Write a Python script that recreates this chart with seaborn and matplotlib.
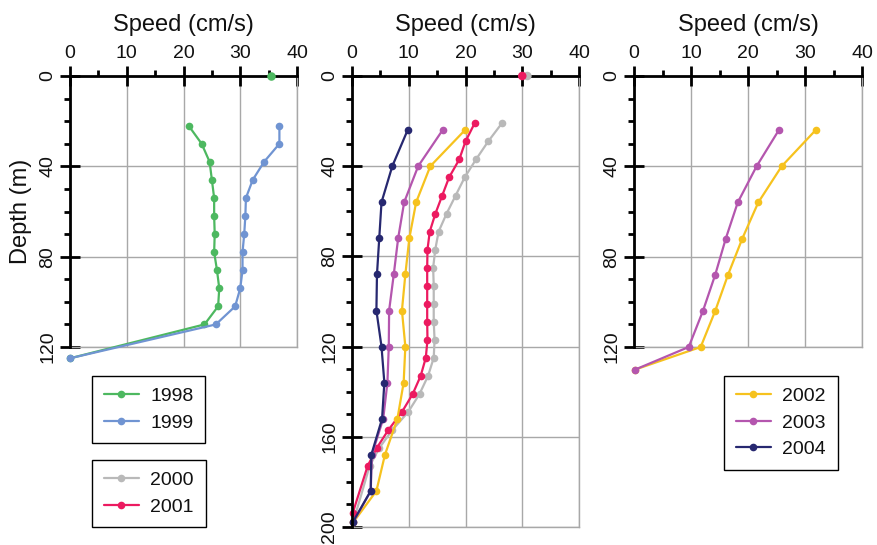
import matplotlib
matplotlib.use("Agg")
import matplotlib.pyplot as plt
import pandas as pd
import seaborn as sns
from matplotlib.ticker import MultipleLocator

sns.set_style("white")
plt.rcParams['font.family'] = ['Liberation Sans', 'DejaVu Sans']
plt.rcParams['text.color'] = '#111111'
plt.rcParams['axes.labelcolor'] = '#111111'

# ---------------- data ----------------
depth_left = [22, 30, 38, 46, 54, 62, 70, 78, 86, 94, 102, 110, 125]
speed_1998 = [20.9, 23.2, 24.6, 25.0, 25.4, 25.4, 25.5, 25.4, 25.9, 26.3, 26.1, 23.7, 0.0]
speed_1999 = [36.9, 36.9, 34.2, 32.2, 31.0, 30.9, 30.7, 30.4, 30.4, 30.0, 29.1, 25.7, 0.0]

depth_2000 = [21, 29, 37, 45, 53, 61, 69, 77, 85, 93, 101, 109, 117, 125, 133, 141, 149, 157, 165, 173, 198]
speed_2000 = [26.4, 24.0, 21.85, 19.85, 18.26, 16.67, 15.26, 14.67, 14.3, 14.4, 14.4, 14.4, 14.55, 14.4,
              13.4, 11.9, 9.9, 7.1, 4.8, 3.1, 0.2]
depth_2001 = [21, 29, 37, 45, 53, 61, 69, 77, 85, 93, 101, 109, 117, 125, 133, 141, 149, 157, 165, 173, 194]
speed_2001 = [21.6, 20.0, 18.9, 17.1, 15.9, 14.7, 13.7, 13.3, 13.25, 13.25, 13.25, 13.25, 13.3, 13.0,
              12.1, 10.7, 8.8, 6.4, 4.35, 2.75, 0.1]

depth_mid = [24, 40, 56, 72, 88, 104, 120, 136, 152, 168, 184, 198]
speed_2002_mid = [19.9, 13.8, 11.3, 10.1, 9.4, 8.8, 9.4, 9.1, 8.0, 5.8, 4.3, 0.2]
speed_2003_mid = [15.96, 11.66, 9.19, 8.13, 7.36, 6.54, 6.48, 6.24, 5.5, 3.5, 3.3, 0.2]
speed_2004_mid = [9.8, 7.1, 5.2, 4.8, 4.4, 4.3, 5.2, 5.7, 5.3, 3.4, 3.3, 0.1]

depth_right = [24, 40, 56, 72, 88, 104, 120, 130]
speed_2002_right = [31.85, 25.9, 21.8, 19.0, 16.5, 14.25, 11.7, 0.2]
speed_2003_right = [25.4, 21.5, 18.2, 16.1, 14.25, 12.1, 9.6, 0.2]

# isolated surface readings (depth 0)
surface_left_years = ['1998']
surface_left_speed = [35.5]
surface_mid_years = ['2000', '2001']
surface_mid_speed = [30.9, 30.0]

colors = {
    '1998': '#4DB860', '1999': '#7094D2', '2000': '#B9B9B9', '2001': '#EC1A60',
    '2002': '#F6C21E', '2003': '#B456AE', '2004': '#272870',
}

speed_ticks = [0, 10, 20, 30, 40]
depth_ticks_short = [0, 40, 80, 120]
depth_ticks_long = [0, 40, 80, 120, 160, 200]

# ---------------- figure ----------------
W, H = 877, 545
fig = plt.figure(figsize=(W / 100, H / 100), dpi=100)
axL = fig.add_axes([70 / W, 1 - 347 / H, 227 / W, 271 / H])
axM = fig.add_axes([352 / W, 1 - 527 / H, 227 / W, 451 / H])
axR = fig.add_axes([634 / W, 1 - 347 / H, 228 / W, 271 / H])

handles = {}


def draw(ax, depth, speed, year):
    df = pd.DataFrame({'speed': speed, 'depth': depth})
    sns.lineplot(data=df, x='speed', y='depth', sort=False, estimator=None,
                 color=colors[year], marker='o', markersize=5.5, markeredgewidth=0,
                 linewidth=1.6, ax=ax, legend=False, clip_on=False, zorder=3, label=year)
    handles.setdefault(year, ax.lines[-1])


def draw_surface(ax, years, speeds):
    df = pd.DataFrame({'speed': speeds, 'depth': [0] * len(speeds), 'year': years})
    sns.scatterplot(data=df, x='speed', y='depth', hue='year',
                    palette=[colors[y] for y in years], s=38, linewidth=0,
                    ax=ax, legend=False, clip_on=False, zorder=5)


draw(axL, depth_left, speed_1998, '1998')
draw(axL, depth_left, speed_1999, '1999')
draw_surface(axL, surface_left_years, surface_left_speed)

draw(axM, depth_2000, speed_2000, '2000')
draw(axM, depth_2001, speed_2001, '2001')
draw(axM, depth_mid, speed_2002_mid, '2002')
draw(axM, depth_mid, speed_2003_mid, '2003')
draw(axM, depth_mid, speed_2004_mid, '2004')
draw_surface(axM, surface_mid_years, surface_mid_speed)

draw(axR, depth_right, speed_2002_right, '2002')
draw(axR, depth_right, speed_2003_right, '2003')

grid_c = '#A8A8A8'
for ax, ymax, yt in [(axL, 120, depth_ticks_short), (axM, 200, depth_ticks_long),
                     (axR, 120, depth_ticks_short)]:
    ax.set_xlim(0, 40)
    ax.set_ylim(ymax, 0)
    ax.set_xticks(speed_ticks)
    ax.set_yticks(yt)
    ax.xaxis.set_minor_locator(MultipleLocator(5))
    ax.yaxis.set_minor_locator(MultipleLocator(10))
    ax.xaxis.tick_top()
    ax.xaxis.set_label_position('top')
    ax.set_xlabel('Speed (cm/s)', fontsize=17, labelpad=10)
    ax.set_ylabel('')
    ax.grid(True, which='major', color=grid_c, linewidth=1.0)
    ax.set_axisbelow(True)
    for s in ['top', 'left']:
        ax.spines[s].set_color('black')
        ax.spines[s].set_linewidth(2.0)
        ax.spines[s].set_zorder(4)
    for s in ['right', 'bottom']:
        ax.spines[s].set_color(grid_c)
        ax.spines[s].set_linewidth(1.0)
    ax.tick_params(which='major', direction='inout', length=14, width=2.0, color='black',
                   labelsize=14, pad=3, labelcolor='#111111')
    ax.tick_params(which='minor', direction='out', length=4.5, width=2.0, color='black')
    ax.tick_params(axis='x', which='both', top=True, bottom=False)
    ax.tick_params(axis='y', which='both', left=True, right=False, labelrotation=90)
    for lab in ax.get_yticklabels():
        lab.set_va('center')

axL.set_ylabel('Depth (m)', fontsize=17, labelpad=5)

leg_kw = dict(loc='upper left', fontsize=14, frameon=True, fancybox=False,
              edgecolor='black', framealpha=1, handlelength=1.8, handletextpad=0.6,
              labelspacing=0.45, borderpad=0.6, borderaxespad=0)


def add_legend(years, x, y):
    leg = fig.legend([handles[yr] for yr in years], years,
                     bbox_to_anchor=(x / W, 1 - y / H), **leg_kw)
    leg.get_frame().set_linewidth(1.0)
    return leg


add_legend(['1998', '1999'], 92, 376)
add_legend(['2000', '2001'], 92, 460)
add_legend(['2002', '2003', '2004'], 724, 376)

fig.savefig('out.png', dpi=100)
